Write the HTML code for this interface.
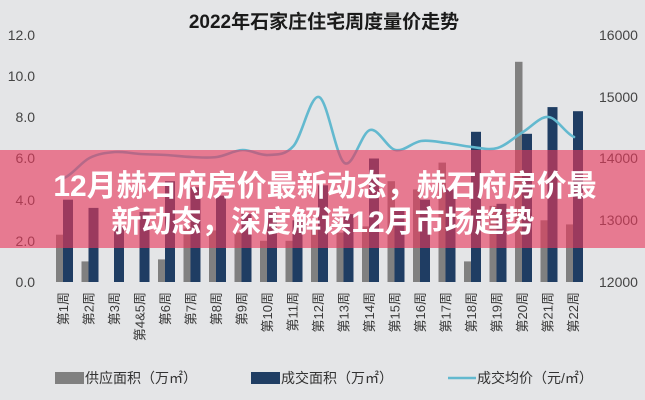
<!DOCTYPE html>
<html>
<head>
<meta charset="utf-8">
<style>
  html, body { margin:0; padding:0; }
  body { width:645px; height:400px; overflow:hidden; background:#e4e5e7; }
  svg { display:block; }
  text { font-family: "Liberation Sans", "Noto Sans CJK SC", sans-serif; }
</style>
</head>
<body>
<svg width="645" height="400" viewBox="0 0 645 400" xmlns="http://www.w3.org/2000/svg">
  <rect x="0" y="0" width="645" height="400" fill="#e4e5e7"/>

  <!-- Title -->
  <text x="324" y="28" text-anchor="middle" font-size="19" font-weight="700" fill="#1a1a1a">2022年石家庄住宅周度量价走势</text>

  <!-- Left axis labels -->
  <g font-size="14" fill="#444" text-anchor="end">
    <text x="35" y="40">12.0</text>
    <text x="35" y="81">10.0</text>
    <text x="35" y="122">8.0</text>
    <text x="35" y="163">6.0</text>
    <text x="35" y="205">4.0</text>
    <text x="35" y="246">2.0</text>
    <text x="35" y="287">0.0</text>
  </g>
  <!-- Right axis labels -->
  <g font-size="14" fill="#444" text-anchor="start">
    <text x="599" y="40">16000</text>
    <text x="599" y="102">15000</text>
    <text x="599" y="163">14000</text>
    <text x="599" y="225">13000</text>
    <text x="599" y="287">12000</text>
  </g>

  <!-- Supply bars (gray) -->
  <g fill="#808080">
    <rect x="56" y="234.7" width="7.5" height="47.3"/>
    <rect x="81.5" y="261.4" width="7.5" height="20.6"/>
    <rect x="158" y="259.4" width="7.5" height="22.6"/>
    <rect x="183.5" y="228.5" width="7.5" height="53.5"/>
    <rect x="209" y="230.5" width="7.5" height="51.5"/>
    <rect x="234.5" y="232.6" width="7.5" height="49.4"/>
    <rect x="260" y="240.8" width="7.5" height="41.2"/>
    <rect x="285.5" y="240.8" width="7.5" height="41.2"/>
    <rect x="311" y="228.5" width="7.5" height="53.5"/>
    <rect x="336.5" y="232.6" width="7.5" height="49.4"/>
    <rect x="362" y="226.4" width="7.5" height="55.6"/>
    <rect x="387.5" y="181.2" width="7.5" height="100.8"/>
    <rect x="413" y="189.4" width="7.5" height="92.6"/>
    <rect x="438.5" y="162.6" width="7.5" height="119.4"/>
    <rect x="464" y="261.4" width="7.5" height="20.6"/>
    <rect x="489.5" y="205.9" width="7.5" height="76.1"/>
    <rect x="515" y="61.8" width="7.5" height="220.2"/>
    <rect x="540.5" y="220.3" width="7.5" height="61.7"/>
    <rect x="566" y="224.4" width="7.5" height="57.6"/>
  </g>

  <!-- Transaction bars (navy) -->
  <g fill="#1f3d63">
    <rect x="63" y="199.7" width="10" height="82.3"/>
    <rect x="88.5" y="207.9" width="10" height="74.1"/>
    <rect x="114" y="226.4" width="10" height="55.6"/>
    <rect x="139.5" y="212" width="10" height="70"/>
    <rect x="165" y="181.2" width="10" height="100.8"/>
    <rect x="190.5" y="187.3" width="10" height="94.7"/>
    <rect x="216" y="195.6" width="10" height="86.4"/>
    <rect x="241.5" y="214.1" width="10" height="67.9"/>
    <rect x="267" y="212" width="10" height="70"/>
    <rect x="292.5" y="220.3" width="10" height="61.7"/>
    <rect x="318" y="185.3" width="10" height="96.7"/>
    <rect x="343.5" y="214.1" width="10" height="67.9"/>
    <rect x="369" y="158.5" width="10" height="123.5"/>
    <rect x="394.5" y="207.9" width="10" height="74.1"/>
    <rect x="420" y="199.7" width="10" height="82.3"/>
    <rect x="445.5" y="189.4" width="10" height="92.6"/>
    <rect x="471" y="131.8" width="10" height="150.2"/>
    <rect x="496.5" y="203.8" width="10" height="78.2"/>
    <rect x="522" y="133.8" width="10" height="148.2"/>
    <rect x="547.5" y="107.1" width="10" height="174.9"/>
    <rect x="573" y="111.2" width="10" height="170.8"/>
  </g>

  <!-- Price line -->
  <path fill="none" stroke="#63b9cf" stroke-width="2.6" stroke-linecap="round" stroke-linejoin="round"
    d="M64,178
       C72.5,174.67 81,162.33 89.5,158
       C98,153.67 106.5,152.67 115,152
       C123.5,151.33 132,153.5 140.5,154
       C149,154.5 157.5,154.5 166,155
       C174.5,155.5 183,156.67 191.5,157
       C200,157.33 208.5,158.17 217,157
       C225.5,155.83 234,150.33 242.5,150
       C251,149.67 259.5,155.67 268,155
       C276.5,154.33 285,155.67 293.5,146
       C302,136.33 310.5,94.17 319,97
       C327.5,99.83 336,157.5 344.5,163
       C353,168.5 361.5,132.17 370,130
       C378.5,127.83 387,148.17 395.5,150
       C404,151.83 412.5,142.17 421,141
       C429.5,139.83 438,142 446.5,143
       C455,144 463.5,146.17 472,147
       C480.5,147.83 489,150.5 497.5,148
       C506,145.5 514.5,137.17 523,132
       C531.5,126.83 540,116.17 548.5,117
       C557,117.83 565.5,133.67 574,137"/>

  <!-- X labels (rotated) -->
  <g font-size="13" fill="#3a3a3a" text-anchor="end">
    <text transform="translate(68,292) rotate(-90)">第1周</text>
    <text transform="translate(93.5,292) rotate(-90)">第2周</text>
    <text transform="translate(119,292) rotate(-90)">第3周</text>
    <text transform="translate(144.5,292) rotate(-90)">第4&amp;5周</text>
    <text transform="translate(170,292) rotate(-90)">第6周</text>
    <text transform="translate(195.5,292) rotate(-90)">第7周</text>
    <text transform="translate(221,292) rotate(-90)">第8周</text>
    <text transform="translate(246.5,292) rotate(-90)">第9周</text>
    <text transform="translate(272,292) rotate(-90)">第10周</text>
    <text transform="translate(297.5,292) rotate(-90)">第11周</text>
    <text transform="translate(323,292) rotate(-90)">第12周</text>
    <text transform="translate(348.5,292) rotate(-90)">第13周</text>
    <text transform="translate(374,292) rotate(-90)">第14周</text>
    <text transform="translate(399.5,292) rotate(-90)">第15周</text>
    <text transform="translate(425,292) rotate(-90)">第16周</text>
    <text transform="translate(450.5,292) rotate(-90)">第17周</text>
    <text transform="translate(476,292) rotate(-90)">第18周</text>
    <text transform="translate(501.5,292) rotate(-90)">第19周</text>
    <text transform="translate(527,292) rotate(-90)">第20周</text>
    <text transform="translate(552.5,292) rotate(-90)">第21周</text>
    <text transform="translate(578,292) rotate(-90)">第22周</text>
  </g>

  <!-- Legend -->
  <rect x="55" y="372" width="29" height="12" fill="#808080"/>
  <text x="85" y="383" font-size="14" fill="#333">供应面积（万㎡）</text>
  <rect x="251" y="372" width="29" height="12" fill="#1f3d63"/>
  <text x="281" y="383" font-size="14" fill="#333">成交面积（万㎡）</text>
  <line x1="448" y1="378" x2="476" y2="378" stroke="#63b9cf" stroke-width="2.5"/>
  <text x="477" y="383" font-size="14" fill="#333">成交均价（元/㎡）</text>

  <!-- Pink overlay band -->
  <rect x="0" y="150" width="645" height="98" fill="rgb(233,57,92)" fill-opacity="0.62"/>
  <g font-size="30" font-weight="700" fill="#ffffff" text-anchor="middle">
    <text x="325" y="196">12月赫石府房价最新动态，赫石府房价最</text>
    <text x="323" y="232">新动态，深度解读12月市场趋势</text>
  </g>
</svg>
</body>
</html>
